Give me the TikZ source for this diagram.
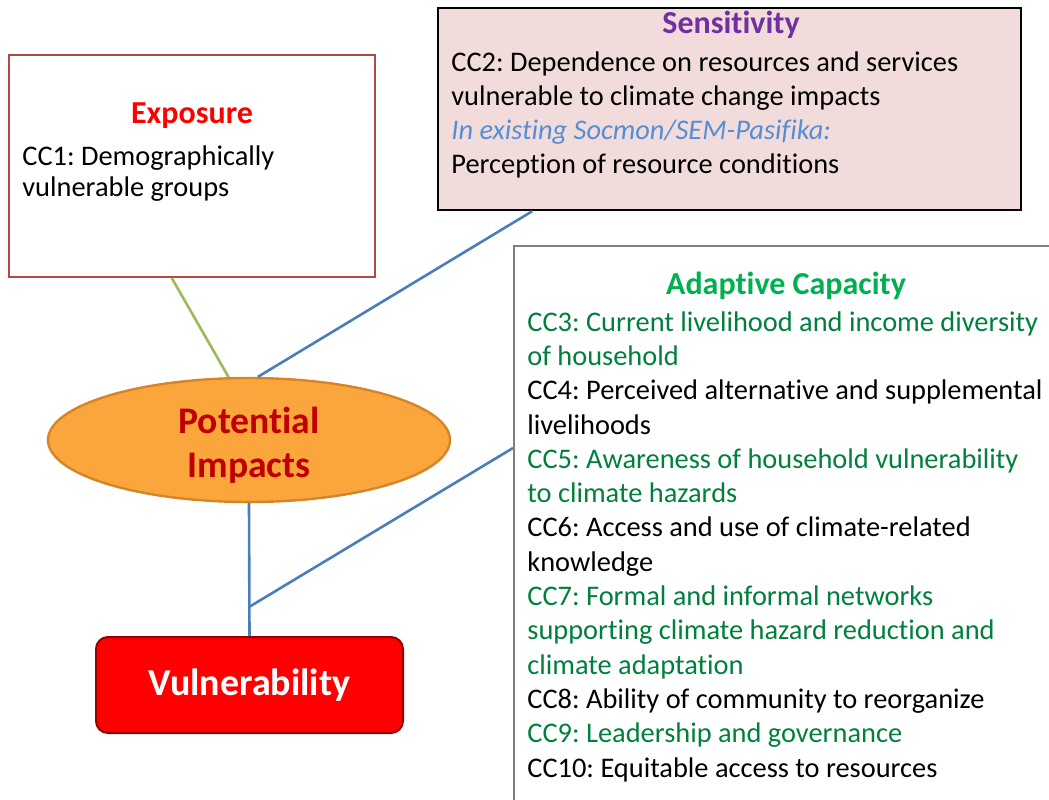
\documentclass[tikz,border=0pt]{standalone}
\usepackage{fontspec}
\setmainfont{Carlito}[Ligatures={NoCommon,NoContextual},RawFeature={-calt;-clig;-dlig}]
\usepackage{tikz}
\usetikzlibrary{calc}
\usetikzlibrary{positioning}
\usetikzlibrary{shapes.geometric}
\frenchspacing

\definecolor{expborder}{RGB}{180,70,70}
\definecolor{expred}{RGB}{255,0,0}
\definecolor{senspink}{RGB}{242,220,219}
\definecolor{senspurple}{RGB}{112,48,160}
\definecolor{socblue}{RGB}{85,142,213}
\definecolor{adagreen}{RGB}{0,176,80}
\definecolor{ccgreen}{RGB}{0,128,60}
\definecolor{linkblue}{RGB}{74,126,187}
\definecolor{linkgreen}{RGB}{155,187,89}
\definecolor{impfill}{RGB}{250,166,60}
\definecolor{impdraw}{RGB}{214,132,40}
\definecolor{impred}{RGB}{192,0,0}
\definecolor{vulred}{RGB}{255,0,0}
\definecolor{vuldraw}{RGB}{150,0,0}

\tikzset{
  ttl/.style={inner sep=0pt,font=\fontsize{16}{19}\selectfont\bfseries},
  body/.style={inner sep=0pt,anchor=north west,align=left},
  link/.style={linkblue,line width=1.3pt},
}

\begin{document}
\begin{tikzpicture}[x=0.5pt,y=-0.5pt]
      \useasboundingbox (0,0) rectangle (1049,799);

      % boxes
      \node (exp) [draw=expborder,line width=1pt,fill=white,minimum width=183pt,minimum height=111pt] at (192,166) {};
      \node (sens) [draw=black,fill=senspink,line width=1.2pt,minimum width=291.5pt,minimum height=101pt] at (729.5,109) {};
      \node (adapt) [draw=gray,line width=0.8pt,anchor=north west,minimum width=290pt,minimum height=290pt] at (513,245) {};

      % exposure
      \node (expttl) [ttl,text=expred] at (192,116) {Exposure};
      \node (expbody) [body,font=\fontsize{14.2}{15.5}\selectfont] at (22,145) {CC1: Demographically\\vulnerable groups};

      % sensitivity
      \node (sensttl) [ttl,text=senspurple] at (731,25) {Sensitivity};
      \node (sensbody) [body,font=\fontsize{14.2}{17}\selectfont] at (451,51) {CC2: Dependence on resources and services\\vulnerable to climate change impacts\\{\color{socblue}\itshape In existing Socmon/SEM-Pasifika:}\\Perception of resource conditions};

      % adaptive capacity
      \node (adaptttl) [ttl,text=adagreen] at (786,286) {Adaptive Capacity};
      \node (adaptbody) [body,font=\fontsize{14.2}{17.15}\selectfont] at (527,311) {%
        \color{ccgreen}CC3: Current livelihood and income diversity\\
        \color{ccgreen}of household\\
        \color{black}CC4: Perceived alternative and supplemental\\
        \color{black}livelihoods\\
        \color{ccgreen}CC5: Awareness of household vulnerability\\
        \color{ccgreen}to climate hazards\\
        \color{black}CC6: Access and use of climate-related\\
        \color{black}knowledge\\
        \color{ccgreen}CC7: Formal and informal networks\\
        \color{ccgreen}supporting climate hazard reduction and\\
        \color{ccgreen}climate adaptation\\
        \color{black}CC8: Ability of community to reorganize\\
        \color{ccgreen}CC9: Leadership and governance\\
        \color{black}CC10: Equitable access to resources};

      % potential impacts and vulnerability
      \node (imp) [ellipse,fill=impfill,draw=impdraw,line width=1.2pt,
                   minimum width=201pt,minimum height=62pt] at (249,440) {};
      \node (imptxt) [align=center,inner sep=0pt,text=impred,font=\fontsize{18.8}{22}\selectfont\bfseries] at (249,445) {Potential\\Impacts};
      \node (vul) [rounded corners=6pt,fill=vulred,draw=vuldraw,line width=1pt,minimum width=153.5pt,minimum height=48pt,
                   text=white,font=\fontsize{19}{22}\selectfont\bfseries] at (249.5,685) {Vulnerability};

      % links
      \coordinate (jn) at ($(imp.south)!0.78!(vul.north)$);
      \draw[linkgreen,line width=1.3pt] ($(exp.south west)!0.445!(exp.south east)$) -- (imp.108);
      \draw[link] ($(sens.south west)!0.163!(sens.south east)$) -- (imp.82);
      \draw[link] (imp.south) -- (vul.north);
      \draw[link] (jn) -- ($(adapt.north west)+(0,203)$);
\end{tikzpicture}
\end{document}
